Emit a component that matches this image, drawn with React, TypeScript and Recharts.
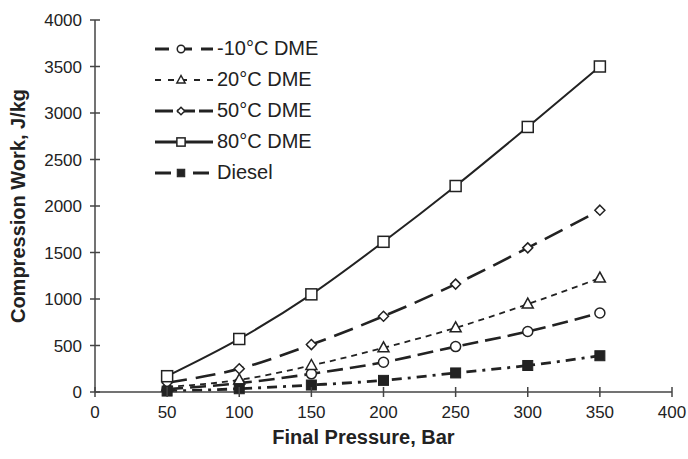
import React from "react";
import { LineChart, Line, XAxis, YAxis, Legend, Label } from "recharts";

const pressure = [50, 100, 150, 200, 250, 300, 350];
const dmeM10 = [30, 95, 195, 320, 488, 650, 850];
const dme20 = [55, 130, 285, 475, 690, 945, 1225];
const dme50 = [100, 250, 510, 815, 1160, 1550, 1955];
const dme80 = [170, 570, 1050, 1615, 2215, 2850, 3500];
const diesel = [10, 35, 75, 125, 205, 285, 390];

const xTicks = [0, 50, 100, 150, 200, 250, 300, 350, 400];
const yTicks = [0, 500, 1000, 1500, 2000, 2500, 3000, 3500, 4000];

const data = pressure.map((p, i) => ({
  p,
  m10: dmeM10[i],
  d20: dme20[i],
  d50: dme50[i],
  d80: dme80[i],
  diesel: diesel[i],
}));

const INK = "#222";
const FONT = "'Liberation Sans', Arial, sans-serif";

type Shape = "circle" | "triangle" | "diamond" | "square" | "filled";

const marker = (shape: Shape, cx: number, cy: number, key?: string, k = 1) => {
  switch (shape) {
    case "circle":
      return <circle key={key} cx={cx} cy={cy} r={5 * k} fill="#fff" stroke={INK} strokeWidth={1.5} />;
    case "triangle":
      return (
        <polygon
          key={key}
          points={`${cx},${cy - 6 * k} ${cx - 5.5 * k},${cy + 4 * k} ${cx + 5.5 * k},${cy + 4 * k}`}
          fill="#fff"
          stroke={INK}
          strokeWidth={1.5}
        />
      );
    case "diamond":
      return (
        <polygon
          key={key}
          points={`${cx},${cy - 5 * k} ${cx + 5 * k},${cy} ${cx},${cy + 5 * k} ${cx - 5 * k},${cy}`}
          fill="#fff"
          stroke={INK}
          strokeWidth={1.5}
        />
      );
    case "square":
      return (
        <rect key={key} x={cx - 5.5 * k} y={cy - 5.5 * k} width={11 * k} height={11 * k} fill="#fff" stroke={INK} strokeWidth={1.5} />
      );
    default:
      return <rect key={key} x={cx - 5 * k} y={cy - 5 * k} width={10 * k} height={10 * k} fill={INK} stroke={INK} strokeWidth={1} />;
  }
};

// legendDash: how the sample line looks in the key
const series = [
  { key: "m10", name: "-10°C DME", dash: "16 7", legendDash: "14 9", width: 2.6, shape: "circle" as Shape },
  { key: "d20", name: "20°C DME", dash: "6 5", legendDash: "6 7", width: 1.8, shape: "triangle" as Shape },
  { key: "d50", name: "50°C DME", dash: "20 9", legendDash: "18 4", width: 2.6, shape: "diamond" as Shape },
  { key: "d80", name: "80°C DME", dash: undefined, legendDash: undefined, width: 2, shape: "square" as Shape },
  { key: "diesel", name: "Diesel", dash: "10 6 3 6", legendDash: "16 8 5 9", width: 2.8, shape: "filled" as Shape },
];

const XTick = (props: any) => {
  const { x, y, payload } = props;
  return (
    <g>
      <line x1={x} x2={x} y1={y - 5} y2={y + 5} stroke="#444" strokeWidth={1.5} />
      <text x={x} y={y + 26} textAnchor="middle" fontSize={17} fill={INK} fontFamily={FONT}>
        {payload.value}
      </text>
    </g>
  );
};

const YTick = (props: any) => {
  const { x, y, payload } = props;
  return (
    <g>
      <line x1={x - 5} x2={x + 5} y1={y} y2={y} stroke="#444" strokeWidth={1.5} />
      <text x={x - 13} y={y + 6} textAnchor="end" fontSize={17} fill={INK} fontFamily={FONT}>
        {payload.value}
      </text>
    </g>
  );
};

const LegendBox = () => (
  <div style={{ fontFamily: FONT, color: INK }}>
    {series.map((s) => (
      <div key={s.key} style={{ display: "flex", alignItems: "center", height: 31 }}>
        <svg width={64} height={20}>
          <line
            x1={2}
            x2={60}
            y1={10}
            y2={10}
            stroke={INK}
            strokeWidth={s.key === "d20" ? 2 : 3}
            strokeDasharray={s.legendDash}
          />
          {marker(s.shape, 28, 10, undefined, 0.75)}
        </svg>
        <span style={{ fontSize: 20 }}>{s.name}</span>
      </div>
    ))}
  </div>
);

export default function App() {
  return (
    <div style={{ position: "absolute", left: 0, top: 0, background: "#fff" }}>
      <LineChart width={688} height={459} data={data} margin={{ top: 20, right: 16, bottom: 0, left: 0 }}>
        <XAxis
          dataKey="p"
          type="number"
          domain={[0, 400]}
          ticks={xTicks}
          height={67}
          tickSize={0}
          tickMargin={0}
          tickLine={false}
          tick={<XTick />}
          stroke="#444"
          strokeWidth={1.5}
        >
          <Label
            content={({ viewBox }: any) => (
              <text
                x={viewBox.x + viewBox.width / 2 - 20}
                y={viewBox.y + 52}
                textAnchor="middle"
                fontSize={20}
                fontWeight="bold"
                fill={INK}
                fontFamily={FONT}
              >
                Final Pressure, Bar
              </text>
            )}
          />
        </XAxis>
        <YAxis
          type="number"
          domain={[0, 4000]}
          ticks={yTicks}
          width={95}
          tickSize={0}
          tickMargin={0}
          tickLine={false}
          tick={<YTick />}
          stroke="#444"
          strokeWidth={1.5}
        >
          <Label
            content={({ viewBox }: any) => {
              const cy = viewBox.y + viewBox.height / 2;
              return (
                <text
                  x={25}
                  y={cy}
                  transform={`rotate(-90 25 ${cy})`}
                  textAnchor="middle"
                  fontSize={20}
                  fontWeight="bold"
                  fill={INK}
                  fontFamily={FONT}
                >
                  Compression Work, J/kg
                </text>
              );
            }}
          />
        </YAxis>
        <Legend
          layout="vertical"
          align="center"
          verticalAlign="middle"
          content={<LegendBox />}
          wrapperStyle={{ left: 153, top: 33, width: 200 }}
        />
        {series.map((s) => (
          <Line
            key={s.key}
            dataKey={s.key}
            name={s.name}
            type="monotone"
            stroke={INK}
            strokeWidth={s.width}
            strokeDasharray={s.dash}
            dot={(p: any) => marker(s.shape, p.cx, p.cy, `${s.key}-${p.index}`)}
            activeDot={false}
            isAnimationActive={false}
          />
        ))}
      </LineChart>
    </div>
  );
}
